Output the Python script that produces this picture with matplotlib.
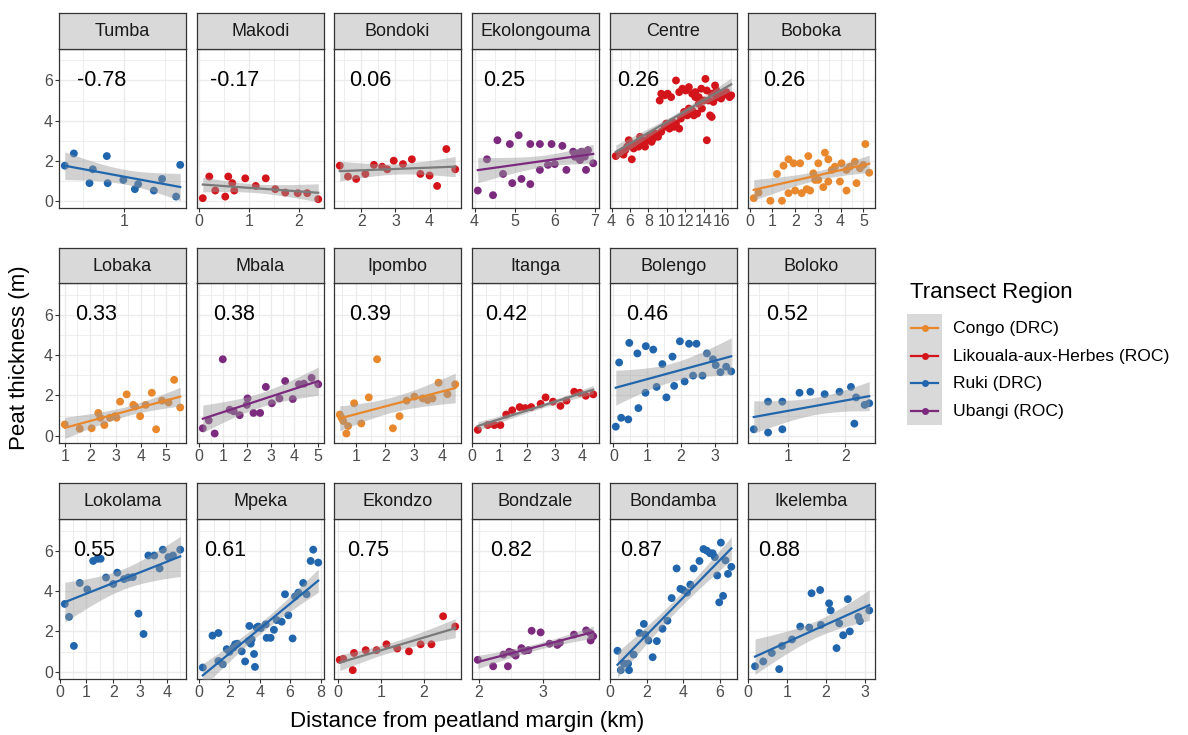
import numpy as np
import matplotlib

matplotlib.use("Agg")
import matplotlib.pyplot as plt
from matplotlib.patches import Rectangle
from matplotlib.lines import Line2D

plt.rcParams["font.family"] = ["Liberation Sans", "DejaVu Sans"]

# ---- data ------------------------------------------------------------------
regions = ["Congo (DRC)", "Likouala-aux-Herbes (ROC)", "Ruki (DRC)", "Ubangi (ROC)"]
region_colors = ["#E8872C", "#D4141B", "#2166AC", "#7B2A7E"]
region_lines = ["#E8872C", "#7A7A7A", "#2166AC", "#7B2A7E"]

sites = ["Tumba", "Makodi", "Bondoki", "Ekolongouma", "Centre", "Boboka",
         "Lobaka", "Mbala", "Ipombo", "Itanga", "Bolengo", "Boloko",
         "Lokolama", "Mpeka", "Ekondzo", "Bondzale", "Bondamba", "Ikelemba"]
site_region = [2, 1, 1, 3, 1, 0,
               0, 3, 0, 1, 2, 2,
               2, 2, 1, 3, 2, 2]
site_labels = ["-0.78", "-0.17", "0.06", "0.25", "0.26", "0.26",
               "0.33", "0.38", "0.39", "0.42", "0.46", "0.52",
               "0.55", "0.61", "0.75", "0.82", "0.87", "0.88"]
site_ticks = [[1], [0, 1, 2], [2, 3, 4], [4, 5, 6, 7], [4, 6, 8, 10, 12, 14, 16], [0, 1, 2, 3, 4, 5],
              [1, 2, 3, 4, 5], [0, 1, 2, 3, 4, 5], [1, 2, 3, 4], [0, 1, 2, 3, 4], [0, 1, 2, 3], [1, 2],
              [0, 1, 2, 3, 4], [0, 2, 4, 6, 8], [0, 1, 2], [2, 3], [0, 2, 4, 6], [0, 1, 2, 3]]

tumba_x = [0.28, 0.39, 0.58, 0.62, 0.79, 0.80, 0.99, 1.13, 1.17, 1.36, 1.46, 1.63, 1.68]
tumba_y = [1.75, 2.36, 0.88, 1.57, 2.23, 0.88, 1.04, 0.58, 0.83, 0.51, 1.09, 0.21, 1.79]

makodi_x = [0.08, 0.21, 0.33, 0.53, 0.59, 0.67, 0.71, 0.93, 1.14, 1.34, 1.53, 1.73, 1.98, 2.17, 2.39]
makodi_y = [0.13, 1.21, 0.51, 0.21, 1.21, 0.88, 0.51, 1.12, 0.74, 1.12, 0.58, 0.41, 0.38, 0.38, 0.08]

bondoki_x = [1.37, 1.61, 1.85, 2.12, 2.37, 2.61, 2.76, 2.95, 3.22, 3.48, 3.73, 4.00, 4.22, 4.49, 4.75]
bondoki_y = [1.75, 1.21, 1.09, 1.34, 1.79, 1.70, 1.57, 2.00, 1.83, 2.07, 1.34, 1.26, 0.74, 2.58, 1.57]

ekolongouma_x = [4.08, 4.31, 4.46, 4.57, 4.71, 4.88, 4.94, 5.10, 5.17, 5.39, 5.39, 5.63, 5.63, 5.83,
                 5.92, 6.00, 6.19, 6.29, 6.46, 6.54, 6.63, 6.71, 6.78, 6.83, 6.96, 6.50, 6.58, 6.75, 6.67]
ekolongouma_y = [0.51, 2.07, 0.28, 3.02, 1.34, 2.83, 0.88, 3.27, 1.09, 2.83, 0.83, 2.83, 1.54, 1.79,
                 2.83, 1.83, 2.74, 1.54, 2.45, 2.20, 2.03, 2.36, 1.54, 2.53, 1.87, 2.20, 2.36, 2.20, 2.45]

centre_x = [4.46, 4.81, 5.17, 5.50, 5.70, 5.87, 6.20, 6.40, 6.70, 6.93, 7.10, 7.39, 7.64, 7.82, 8.10,
            8.35, 8.70, 9.05, 9.40, 9.76, 9.94, 10.30, 10.64, 10.82, 11.00, 11.35, 11.53, 11.88, 12.23,
            12.40, 12.76, 12.94, 13.30, 13.47, 13.82, 14.35, 14.70, 14.88,
            9.40, 9.76, 10.10, 10.47, 11.00, 11.35, 11.70, 12.06, 12.40, 12.76, 13.10, 13.47, 13.75,
            14.20, 14.35, 14.53, 14.88, 15.24, 15.41, 15.77, 16.12, 16.47, 16.83, 17.00, 9.23, 15.40,
            15.90, 14.00, 13.10, 15.06, 5.30, 6.00, 7.30, 8.50]
centre_y = [2.23, 2.36, 2.45, 2.53, 2.70, 3.02, 2.07, 2.61, 2.86, 2.70, 3.19, 2.94, 2.70, 3.02, 3.19,
            2.94, 3.36, 3.19, 3.44, 3.69, 3.85, 3.60, 3.93, 3.69, 3.85, 3.60, 4.10, 4.43, 4.26,
            4.60, 4.51, 4.26, 4.35, 4.84, 4.60, 3.02, 4.26, 4.18,
            5.34, 5.26, 5.34, 5.17, 6.00, 5.42, 5.59, 5.50, 5.67, 5.34, 5.42, 5.17, 5.59,
            6.08, 5.50, 5.00, 5.34, 5.75, 5.17, 5.34, 5.26, 5.42, 5.17, 5.26, 5.00, 5.50,
            5.10, 5.00, 5.17, 4.93, 2.30, 2.75, 3.05, 3.10]

boboka_x = [0.18, 0.39, 0.91, 1.20, 1.42, 1.49, 1.71, 1.71, 1.93, 2.00, 2.22, 2.29, 2.51, 2.58, 2.66,
            2.80, 2.88, 3.02, 3.02, 3.24, 3.31, 3.46, 3.46, 3.61, 3.75, 3.97, 4.04, 4.26, 4.26, 4.41,
            4.63, 4.70, 4.85, 5.00, 5.09, 5.26]
boboka_y = [0.13, 0.41, 0.00, 1.34, 0.00, 1.75, 2.07, 0.38, 1.87, 0.51, 1.87, 0.38, 0.58, 2.23, 0.51,
            1.37, 1.04, 1.87, 1.04, 0.68, 2.40, 2.07, 0.96, 1.54, 1.70, 0.96, 1.87, 0.51, 1.54, 1.70,
            1.95, 0.88, 1.62, 1.79, 2.83, 1.40]

lobaka_x = [1.00, 1.59, 2.06, 2.32, 2.56, 2.78, 2.98, 3.18, 3.44, 3.70, 3.97, 4.19, 4.43, 4.60, 4.83,
            5.09, 5.31, 5.55, 2.40, 3.04, 3.77]
lobaka_y = [0.56, 0.35, 0.37, 1.13, 0.53, 0.89, 0.97, 1.69, 2.05, 1.53, 0.97, 1.53, 2.13, 0.32, 1.74,
            1.65, 2.77, 1.40, 0.89, 0.89, 1.45]

mbala_x = [0.15, 0.40, 0.65, 0.99, 1.28, 1.45, 1.70, 2.03, 2.00, 2.28, 2.56, 2.80, 3.05, 3.37, 3.61,
           3.93, 4.19, 4.40, 4.72, 5.00]
mbala_y = [0.37, 0.76, 0.11, 3.79, 1.29, 1.21, 1.02, 1.85, 1.53, 1.13, 1.13, 2.42, 1.61, 1.85, 2.71,
           1.82, 2.55, 2.58, 2.87, 2.55]

ipombo_x = [0.42, 0.48, 0.54, 0.65, 0.71, 0.92, 1.17, 1.43, 1.72, 2.27, 2.50, 2.75, 3.02, 3.31, 3.48,
            3.65, 3.86, 4.17, 4.44]
ipombo_y = [1.05, 0.89, 0.73, 0.11, 0.48, 1.61, 0.61, 1.90, 3.79, 0.37, 0.97, 1.74, 1.94, 1.85, 1.77,
            1.85, 2.63, 2.06, 2.55]

itanga_x = [0.21, 0.57, 0.81, 1.03, 1.24, 1.46, 1.73, 1.93, 2.15, 2.49, 2.67, 2.94, 3.21, 3.43, 3.71,
            3.91, 4.13, 4.40]
itanga_y = [0.29, 0.53, 0.53, 0.53, 1.05, 1.26, 1.42, 1.37, 1.42, 1.58, 1.90, 1.69, 1.48, 1.74, 2.18,
            2.13, 1.98, 2.05]

bolengo_x = [0.07, 0.17, 0.23, 0.44, 0.47, 0.74, 0.71, 0.95, 0.96, 1.18, 1.28, 1.45, 1.57, 1.75, 1.80,
             1.97, 2.11, 2.24, 2.36, 2.46, 2.64, 2.77, 2.95, 3.03, 3.17, 3.34, 3.49]
bolengo_y = [0.45, 3.63, 0.89, 0.81, 4.60, 1.37, 4.08, 2.13, 4.44, 4.27, 2.42, 3.55, 1.90, 3.92, 2.47,
             4.68, 2.69, 4.56, 2.98, 4.56, 2.98, 4.08, 3.79, 3.50, 3.15, 3.42, 3.19]

boloko_x = [0.40, 0.65, 0.65, 0.90, 0.90, 1.20, 1.39, 1.64, 1.90, 2.10, 2.16, 2.19, 2.34, 2.42]
boloko_y = [0.32, 1.69, 0.16, 1.69, 0.32, 2.13, 2.18, 2.06, 2.18, 2.42, 0.60, 1.90, 1.53, 1.61]

lokolama_x = [0.19, 0.35, 0.53, 0.75, 1.03, 1.25, 1.41, 1.53, 1.73, 2.00, 2.15, 2.40, 2.56, 2.73, 2.94,
              3.13, 3.31, 3.53, 3.73, 3.85, 4.06, 4.23, 4.50]
lokolama_y = [3.36, 2.72, 1.28, 4.40, 4.08, 5.49, 5.60, 5.60, 4.67, 4.35, 4.91, 4.59, 4.67, 4.69, 2.88,
              1.87, 5.76, 5.76, 5.12, 6.05, 5.68, 5.76, 6.05]

mpeka_x = [0.24, 0.88, 1.27, 1.27, 1.56, 1.82, 2.00, 2.26, 2.52, 2.81, 3.03, 3.31, 3.40, 3.46, 3.62,
           3.68, 3.79, 3.90, 4.06, 4.39, 4.45, 4.71, 4.93, 5.11, 5.44, 5.66, 5.88, 6.16, 6.32, 6.54,
           6.86, 7.08, 7.35, 7.52, 7.85, 3.25, 2.37]
mpeka_y = [0.21, 1.79, 1.92, 0.53, 0.37, 1.12, 0.99, 1.20, 1.39, 1.01, 0.51, 2.27, 1.39, 1.60, 0.88,
           0.24, 2.19, 2.24, 2.16, 2.35, 1.68, 1.68, 2.08, 2.56, 2.48, 3.84, 2.80, 1.65, 3.73, 3.92,
           4.40, 3.84, 5.49, 6.05, 5.41, 1.52, 1.36]

ekondzo_x = [0.05, 0.13, 0.35, 0.38, 0.65, 0.90, 1.13, 1.38, 1.65, 1.92, 2.17, 2.44, 2.72]
ekondzo_y = [0.59, 0.64, 0.08, 0.93, 1.07, 1.07, 1.36, 1.15, 1.01, 1.36, 1.36, 2.75, 2.24]

bondzale_x = [1.98, 2.22, 2.38, 2.45, 2.47, 2.52, 2.57, 2.66, 2.71, 2.77, 2.82, 2.96, 3.10, 3.22, 3.26,
              3.48, 3.67, 3.74, 3.78, 3.73]
bondzale_y = [0.59, 0.27, 0.85, 0.27, 0.99, 0.93, 0.80, 1.17, 1.04, 1.07, 2.03, 1.95, 1.39, 1.33, 1.44,
              1.84, 2.05, 1.55, 1.76, 1.92]

bondamba_x = [0.41, 0.59, 0.77, 1.04, 1.29, 1.61, 1.85, 2.10, 2.33, 2.56, 2.87, 3.14, 3.37, 3.64, 3.85,
              4.00, 4.21, 4.39, 4.57, 4.89, 5.11, 5.29, 5.47, 5.61, 5.73, 5.86, 5.97, 6.06, 6.18, 6.31,
              6.45, 6.63, 0.99, 1.92]
bondamba_y = [1.04, 0.08, 0.40, 0.08, 0.85, 1.92, 2.37, 1.55, 0.72, 1.52, 2.13, 2.53, 3.65, 5.12, 4.11,
              4.05, 3.92, 4.32, 5.12, 5.49, 6.08, 6.00, 5.87, 5.87, 5.68, 4.77, 3.44, 6.40, 3.76, 5.52,
              4.85, 5.20, 0.40, 1.84]

ikelemba_x = [0.18, 0.39, 0.61, 0.80, 0.87, 1.13, 1.34, 1.57, 1.63, 1.85, 1.87, 2.08, 2.12, 2.27, 2.34,
              2.44, 2.56, 2.61, 2.83, 2.87, 3.11]
ikelemba_y = [0.27, 0.51, 0.93, 0.13, 1.28, 1.60, 2.24, 2.19, 3.89, 4.05, 2.32, 3.39, 3.04, 1.17, 2.40,
              1.81, 3.60, 2.00, 2.72, 2.51, 3.04]

site_data = [
    (tumba_x, tumba_y), (makodi_x, makodi_y), (bondoki_x, bondoki_y),
    (ekolongouma_x, ekolongouma_y), (centre_x, centre_y), (boboka_x, boboka_y),
    (lobaka_x, lobaka_y), (mbala_x, mbala_y), (ipombo_x, ipombo_y),
    (itanga_x, itanga_y), (bolengo_x, bolengo_y), (boloko_x, boloko_y),
    (lokolama_x, lokolama_y), (mpeka_x, mpeka_y), (ekondzo_x, ekondzo_y),
    (bondzale_x, bondzale_y), (bondamba_x, bondamba_y), (ikelemba_x, ikelemba_y),
]

# where the label text starts inside each panel (axes fraction)
label_pos = [0.14, 0.10, 0.12, 0.09, 0.06, 0.12,
             0.13, 0.13, 0.12, 0.10, 0.13, 0.14,
             0.11, 0.06, 0.10, 0.14, 0.08, 0.08]


def fit_band(x, y, n=80):
    """OLS line with a 95% confidence band, like geom_smooth(method='lm')."""
    x = np.asarray(x, float)
    y = np.asarray(y, float)
    b, a = np.polyfit(x, y, 1)
    xs = np.linspace(x.min(), x.max(), n)
    df = len(x) - 2
    s = np.sqrt(np.sum((y - (a + b * x)) ** 2) / df)
    sxx = np.sum((x - x.mean()) ** 2)
    se = s * np.sqrt(1 / len(x) + (xs - x.mean()) ** 2 / sxx)
    z = 1.959964
    # Cornish-Fisher approximation of the t quantile
    t = z + (z ** 3 + z) / (4 * df) + (5 * z ** 5 + 16 * z ** 3 + 3 * z) / (96 * df ** 2)
    fit = a + b * xs
    return xs, fit, fit - t * se, fit + t * se


W, H = 1188, 735
fig = plt.figure(figsize=(W / 100, H / 100), dpi=100)

col_left = [59, 197, 334, 472, 610, 748]
panel_w = 127
rows = [(13, 49, 208), (248, 283, 443), (483, 519, 679)]
edge = "#333333"

for i, name in enumerate(sites):
    r, c = divmod(i, 6)
    top, sbot, pbot = rows[r]
    l = col_left[c]
    ax = fig.add_axes([l / W, 1 - pbot / H, panel_w / W, (pbot - sbot) / H])
    st = fig.add_axes([l / W, 1 - sbot / H, panel_w / W, (sbot - top) / H])

    # strip
    st.set_facecolor("#D9D9D9")
    st.set_xticks([])
    st.set_yticks([])
    for sp in st.spines.values():
        sp.set_color(edge)
        sp.set_linewidth(0.9)
    st.text(0.5, 0.48, name, ha="center", va="center", fontsize=13, color="#1A1A1A",
            transform=st.transAxes)

    x, y = site_data[i]
    x = np.asarray(x)
    reg = site_region[i]
    xs, fit, lo, hi = fit_band(x, y)

    ax.scatter(x, y, s=32, color=region_colors[reg], edgecolors="none", zorder=3)
    ax.fill_between(xs, lo, hi, color="#999999", alpha=0.45, linewidth=0, zorder=4)
    ax.plot(xs, fit, color=region_lines[reg], lw=1.6, zorder=5)

    span = x.max() - x.min()
    ax.set_xlim(x.min() - 0.05 * span, x.max() + 0.05 * span)
    ax.set_ylim(-0.36, 7.57)

    ticks = site_ticks[i]
    step = ticks[1] - ticks[0] if len(ticks) > 1 else 1
    x0, x1 = ax.get_xlim()
    minor = np.arange(ticks[0] - 10 * step + step / 2, x1, step)
    minor = minor[(minor > x0) & (minor < x1)]
    ax.set_xticks(ticks)
    ax.set_xticks(minor, minor=True)
    ax.set_yticks([0, 2, 4, 6])
    ax.set_yticks([1, 3, 5, 7], minor=True)
    ax.grid(which="major", color="#EBEBEB", lw=1.0, zorder=0)
    ax.grid(which="minor", color="#EBEBEB", lw=0.6, zorder=0)
    ax.set_axisbelow(True)

    ax.tick_params(which="major", length=2.75, width=0.8, color=edge, labelsize=11.5,
                   labelcolor="#4D4D4D", pad=1.5)
    ax.tick_params(which="minor", length=0)
    if c != 0:
        ax.tick_params(axis="y", which="major", left=False, labelleft=False)
    for sp in ax.spines.values():
        sp.set_color(edge)
        sp.set_linewidth(0.9)

    ax.text(label_pos[i], 6, site_labels[i], fontsize=15.5, color="black", ha="left", va="center",
            transform=ax.get_yaxis_transform(), zorder=6)

fig.text(467 / W, 1 - 721 / H, "Distance from peatland margin (km)", ha="center", va="center",
         fontsize=16, color="black")
fig.text(20 / W, 1 - 358 / H, "Peat thickness (m)", ha="center", va="center", rotation=90,
         fontsize=16, color="black")

# legend, drawn by hand in pixel space
lg = fig.add_axes([0, 0, 1, 1], facecolor="none")
lg.set_xlim(0, W)
lg.set_ylim(H, 0)
lg.axis("off")
lg.text(910, 292, "Transect Region", fontsize=16, ha="left", va="center", color="black")
key_y = [328, 356, 383, 411]
for k, lab in enumerate(regions):
    yk = key_y[k]
    lg.add_patch(Rectangle((907, yk - 14), 35, 28, facecolor="#D9D9D9", edgecolor="none"))
    lg.add_line(Line2D([911, 938], [yk, yk], color=region_colors[k], lw=1.6))
    lg.plot([924.5], [yk], "o", ms=5, color=region_colors[k], mec="none")
    lg.text(953, yk, lab, fontsize=12.6, ha="left", va="center", color="black")

fig.savefig("out.png", dpi=100)
